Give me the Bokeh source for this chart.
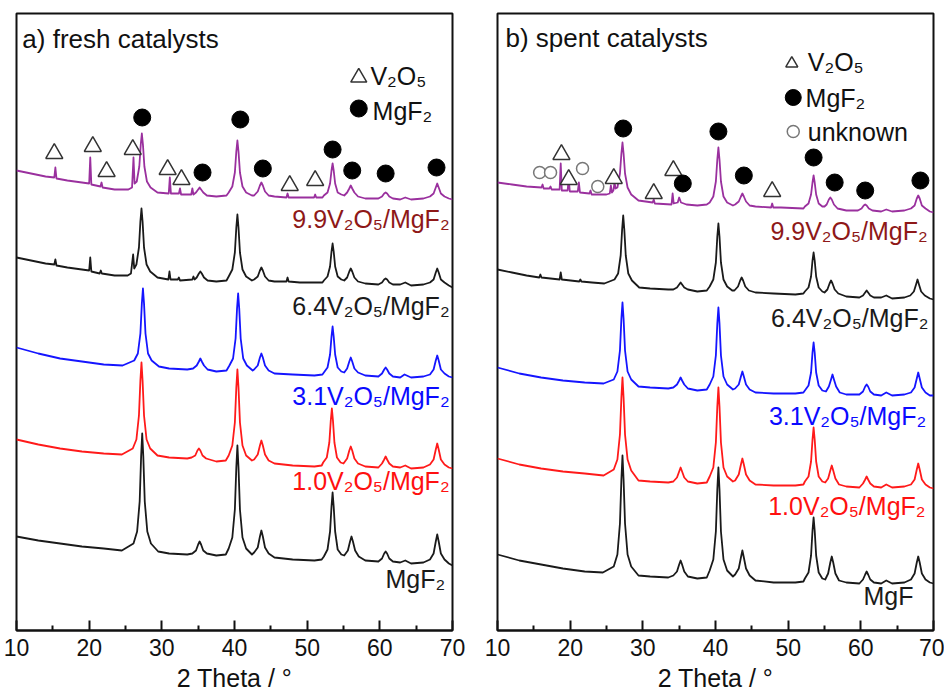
from bokeh.plotting import figure
from bokeh.models import Range1d, FixedTicker, Label
from bokeh.layouts import row
from bokeh.embed import file_html
from bokeh.resources import INLINE

FONT = "Liberation Sans"

# ---------------- data: 2 Theta (deg), intensity (a.u., offset stacked) ----------------
fresh_mgf2 = [(10,94),(13,90),(16,87),(19,84),(22,82),(24.5,80),
    (26.1,87),(26.6,99),(26.95,129),(27.15,174),(27.3,197),(27.45,174),(27.65,129),(28.0,99),(28.5,87),(29.5,79),
    (31,77),(33.5,76),
    (34.2,77),(34.7,80),(35.0,86),(35.2,89),(35.4,86),(35.7,80),(36.2,77),
    (37.5,75),(38.8,76),
    (39.2,82),(39.7,93),(40.05,121),(40.25,163),(40.4,185),(40.55,163),(40.75,121),(41.1,93),(41.6,82),(42.4,76),
    (42.7,78),(43.2,83),(43.5,94),(43.7,100),(43.9,94),(44.2,83),(44.7,77),
    (45.5,73),(48,71),(51,70),(52.0,71),
    (52.3,74),(52.8,81),(53.15,99),(53.35,124),(53.5,138),(53.65,124),(53.85,99),(54.2,81),(54.7,76),(55.1,75),
    (55.6,80),(55.9,89),(56.1,94),(56.3,89),(56.6,80),(57.1,74),
    (58,70),(59.8,69),
    (60.3,72),(60.6,77),(60.8,79),(61.0,77),(61.3,72),(61.8,69),
    (62.8,68),(63.5,70),(64.3,67),(66.0,68),
    (66.9,71),(67.4,77),(67.7,89),(67.9,96),(68.1,89),(68.4,77),(68.9,71),(69.5,67),(70,65)]

fresh_v10 = [(10,191),(13,186),(16,182),(19,179),(22,177),(24.5,176),
    (26.0,182),(26.5,191),(26.85,215),(27.05,250),(27.2,268),(27.35,250),(27.55,215),(27.9,191),(28.4,182),(29.4,175),
    (31,173),(33.5,172),
    (34.1,173),(34.6,175),(34.9,180),(35.1,182),(35.3,180),(35.6,175),(36.1,172),
    (37.5,169),(38.8,170),
    (39.2,175),(39.7,185),(40.05,208),(40.25,243),(40.4,261),(40.55,243),(40.75,208),(41.1,185),(41.6,175),(42.4,170),
    (42.7,171),(43.2,176),(43.5,185),(43.7,190),(43.9,185),(44.2,176),(44.7,170),
    (45.5,167),(48,165),(51,164),(52.0,165),
    (52.2,168),(52.7,173),(53.05,188),(53.25,210),(53.4,222),(53.55,210),(53.75,188),(54.1,173),(54.6,168),(55.0,167),
    (55.5,172),(55.8,180),(56.0,184),(56.2,180),(56.5,172),(57.0,167),
    (58,164),(59.8,163),
    (60.3,167),(60.6,171),(60.8,174),(61.0,171),(61.3,167),(61.8,164),
    (62.8,163),(63.5,165),(64.3,162),(66.0,163),
    (66.9,166),(67.4,171),(67.7,181),(67.9,187),(68.1,181),(68.4,171),(68.9,166),(69.5,163),(70,162)]

fresh_v31 = [(10,283),(13,277),(16,272),(19,269),(22,266),(24.6,265),
    (26.2,270),(26.7,277),(27.05,297),(27.25,327),(27.4,342),(27.55,327),(27.75,297),(28.1,277),(28.6,270),(29.6,264),
    (31,262),(33.5,261),
    (34.3,262),(34.8,265),(35.1,269),(35.3,272),(35.5,269),(35.8,265),(36.3,261),
    (37.5,259),(38.9,260),
    (39.3,265),(39.8,272),(40.15,292),(40.35,322),(40.5,337),(40.65,322),(40.85,292),(41.2,272),(41.7,265),(42.5,260),
    (42.7,261),(43.2,265),(43.5,273),(43.7,277),(43.9,273),(44.2,265),(44.7,260),
    (45.5,257),(48,256),(51,255),(52.1,256),
    (52.3,258),(52.8,263),(53.15,276),(53.35,294),(53.5,304),(53.65,294),(53.85,276),(54.2,263),(54.7,259),(55.1,258),
    (55.5,262),(55.8,269),(56.0,273),(56.2,269),(56.5,262),(57.0,258),
    (58,255),(59.8,254),
    (60.3,257),(60.6,261),(60.8,263),(61.0,261),(61.3,257),(61.8,254),
    (62.8,253),(63.4,256),(64.3,253),(66.0,254),
    (66.9,256),(67.4,261),(67.7,270),(67.9,275),(68.1,270),(68.4,261),(68.9,257),(69.5,254),(70,253)]

fresh_v64 = [(10,373),(12,370),(14,367),(15.2,366),(15.35,371),(15.5,365),(17,363),(19,361),
    (20.0,360),(20.15,373),(20.3,359),(21.45,357),(21.6,360),(21.75,357),(23.5,355),(25.3,355),
    (25.75,357),(26.05,376),(26.2,362),
    (26.5,366),(26.85,383),(27.05,409),(27.2,422),(27.35,409),(27.55,383),(27.9,366),(28.4,359),(29.4,353),
    (30.9,351),(31.05,359),(31.2,351),(32.2,351),(32.35,353),(32.5,350),(34.2,351),(34.35,354),(34.5,351),
    (34.8,353),(35.1,357),(35.3,359),(35.5,357),(35.8,353),(36.3,350),
    (37.5,349),(38.9,350),
    (39.2,354),(39.7,361),(40.05,378),(40.25,403),(40.4,416),(40.55,403),(40.75,378),(41.1,361),(41.6,354),(42.4,350),
    (42.7,351),(43.2,354),(43.5,360),(43.7,363),(43.9,360),(44.2,354),(44.7,350),
    (45.5,349),(47.15,349),(47.3,353),(47.45,349),(49,348),(52.1,348),
    (52.3,350),(52.8,354),(53.15,364),(53.35,379),(53.5,387),(53.65,379),(53.85,364),(54.2,354),(54.7,351),(55.1,350),
    (55.5,353),(55.8,359),(56.0,362),(56.2,359),(56.5,353),(57.0,349),
    (58,347),(59.8,346),
    (60.3,348),(60.6,351),(60.8,352),(61.0,351),(61.3,348),(61.8,346),
    (62.8,346),(63.5,348),(64.3,345),(66.0,346),
    (66.9,348),(67.4,351),(67.7,358),(67.9,362),(68.1,358),(68.4,351),(68.9,348),(69.5,345),(70,343)]

fresh_v99 = [(10,460),(12,457),(14,454),(15.2,453),(15.35,463),(15.5,452),(17,450),(19,448),
    (20.0,447),(20.15,473),(20.3,446),(21.55,444),(21.7,448),(21.85,443),(23.5,441),(25.4,441),
    (25.9,443),(26.1,473),(26.25,447),
    (26.55,449),(26.9,464),(27.1,486),(27.25,497),(27.4,486),(27.6,464),(27.95,449),(28.45,443),(29.4,438),
    (30.95,437),(31.1,453),(31.25,437),(32.35,437),(32.5,442),(32.65,436),(34.05,436),(34.2,442),(34.35,436),
    (34.7,438),(35.0,441),(35.2,443),(35.4,441),(35.7,438),(36.2,435),
    (37.5,434),(38.9,435),
    (39.2,438),(39.7,444),(40.05,458),(40.25,479),(40.4,490),(40.55,479),(40.75,458),(41.1,444),(41.6,438),(42.4,435),
    (42.7,435),(43.2,439),(43.5,445),(43.7,448),(43.9,445),(44.2,439),(44.7,435),
    (45.5,434),(47.15,433),(47.3,437),(47.45,433),(49,433),(50.95,433),(51.1,436),(51.25,433),(52.1,433),
    (52.3,435),(52.8,438),(53.15,447),(53.35,460),(53.5,467),(53.65,460),(53.85,447),(54.2,438),(54.7,436),(55.1,435),
    (55.5,438),(55.8,442),(56.0,445),(56.2,442),(56.5,438),(57.0,434),
    (58,432),(59.8,432),
    (60.3,434),(60.6,437),(60.8,438),(61.0,437),(61.3,434),(61.8,432),
    (62.8,431),(63.5,433),(64.3,431),(66.0,432),
    (66.9,434),(67.4,437),(67.7,443),(67.9,447),(68.1,443),(68.4,437),(68.9,434),(69.5,432),(70,431)]

spent_mgf2 = [(10,76),(13,70),(16,66),(19,62),(22,59),(24.5,58),
    (26.0,64),(26.5,76),(26.85,107),(27.05,151),(27.2,175),(27.35,151),(27.55,107),(27.9,76),(28.4,64),(29.4,55),
    (31,54),(33.5,53),
    (34.2,55),(34.7,59),(35.0,66),(35.2,70),(35.4,66),(35.7,59),(36.2,54),
    (37.5,52),(38.8,53),
    (39.2,60),(39.7,71),(40.05,99),(40.25,141),(40.4,163),(40.55,141),(40.75,99),(41.1,71),(41.6,60),(42.4,54),
    (42.7,56),(43.2,62),(43.5,73),(43.7,80),(43.9,73),(44.2,62),(44.7,55),
    (45.5,50),(48,48),(51,48),(52.1,49),
    (52.3,52),(52.8,58),(53.15,75),(53.35,100),(53.5,113),(53.65,100),(53.85,75),(54.2,58),(54.7,52),(55.1,51),
    (55.5,57),(55.8,68),(56.0,74),(56.2,68),(56.5,57),(57.0,50),
    (58,48),(59.8,47),
    (60.3,51),(60.6,56),(60.8,59),(61.0,56),(61.3,51),(61.8,48),
    (62.8,47),(63.5,50),(64.3,47),(66.0,48),
    (66.9,51),(67.4,57),(67.7,68),(67.9,74),(68.1,68),(68.4,57),(68.9,51),(69.5,48),(70,47)]

spent_v10 = [(10,172),(13,166),(16,162),(19,159),(22,157),(24.6,155),
    (26.0,161),(26.5,171),(26.85,196),(27.05,233),(27.2,253),(27.35,233),(27.55,196),(27.9,171),(28.4,160),(29.4,150),
    (31,149),(33.5,148),
    (34.2,149),(34.7,153),(35.0,159),(35.2,163),(35.4,159),(35.7,153),(36.2,149),
    (37.5,147),(38.8,148),
    (39.2,154),(39.7,163),(40.05,188),(40.25,224),(40.4,243),(40.55,224),(40.75,188),(41.1,163),(41.6,154),(42.4,149),
    (42.7,150),(43.2,156),(43.5,166),(43.7,172),(43.9,166),(44.2,156),(44.7,150),
    (45.5,146),(48,145),(51,145),(52.1,146),
    (52.3,149),(52.8,154),(53.15,169),(53.35,191),(53.5,203),(53.65,191),(53.85,169),(54.2,154),(54.7,149),(55.1,148),
    (55.5,152),(55.8,160),(56.0,165),(56.2,160),(56.5,152),(57.0,146),
    (58,144),(59.8,143),
    (60.3,147),(60.6,151),(60.8,154),(61.0,151),(61.3,147),(61.8,144),
    (62.8,143),(63.5,146),(64.3,143),(66.0,144),
    (66.9,146),(67.4,151),(67.7,161),(67.9,167),(68.1,161),(68.4,151),(68.9,146),(69.5,143),(70,142)]

spent_v31 = [(10,263),(13,257),(16,253),(19,250),(22,248),(24.6,247),
    (26.0,251),(26.5,259),(26.85,280),(27.05,312),(27.2,328),(27.35,312),(27.55,280),(27.9,259),(28.4,251),(29.4,244),
    (31,243),(33.5,242),
    (34.2,243),(34.7,246),(35.0,250),(35.2,253),(35.4,250),(35.7,246),(36.2,242),
    (37.5,240),(38.8,241),
    (39.2,246),(39.7,254),(40.05,275),(40.25,307),(40.4,323),(40.55,307),(40.75,275),(41.1,254),(41.6,246),(42.4,241),
    (42.7,242),(43.2,246),(43.5,254),(43.7,259),(43.9,254),(44.2,246),(44.7,241),
    (45.5,238),(48,237),(51,237),(52.1,238),
    (52.3,240),(52.8,245),(53.15,258),(53.35,278),(53.5,288),(53.65,278),(53.85,258),(54.2,245),(54.7,240),(55.2,239),
    (55.6,244),(55.9,251),(56.1,256),(56.3,251),(56.6,244),(57.1,238),
    (58,236),(59.8,236),
    (60.3,239),(60.6,244),(60.8,246),(61.0,244),(61.3,239),(61.8,236),
    (62.8,235),(63.5,238),(64.3,235),(66.0,236),
    (66.9,238),(67.4,243),(67.7,252),(67.9,258),(68.1,252),(68.4,243),(68.9,238),(69.5,235),(70,235)]

spent_v64 = [(10,361),(12,358),(14,355),(15.75,353),(15.9,356),(16.05,353),(18.55,351),(18.7,358),
    (18.85,351),(21.25,349),(21.4,351),(21.55,349),(23,348),(24.7,347),
    (26.1,351),(26.6,357),(26.95,375),(27.15,401),(27.3,415),(27.45,401),(27.65,375),(28.0,357),(28.5,350),(29.5,343),
    (31,342),(33.5,341),
    (34.2,341),(34.7,343),(35.0,346),(35.2,348),(35.4,346),(35.7,343),(36.2,341),
    (37.5,339),(38.8,340),
    (39.2,344),(39.7,351),(40.05,368),(40.25,394),(40.4,407),(40.55,394),(40.75,368),(41.1,351),(41.6,344),(42.3,340),
    (42.6,340),(43.1,344),(43.4,350),(43.6,353),(43.8,350),(44.1,344),(44.6,340),
    (45.5,338),(48,337),(51,336),(52.1,337),
    (52.3,339),(52.8,343),(53.15,354),(53.35,370),(53.5,378),(53.65,370),(53.85,354),(54.2,343),(54.7,339),(55.0,338),
    (55.4,341),(55.7,347),(55.9,350),(56.1,347),(56.4,341),(56.9,337),
    (58,334),(59.8,333),
    (60.3,335),(60.6,338),(60.8,340),(61.0,338),(61.3,335),(61.8,333),
    (62.8,333),(63.5,335),(64.3,332),(66.0,333),
    (66.8,335),(67.3,339),(67.6,346),(67.8,351),(68.0,346),(68.3,339),(68.8,335),(69.5,332),(70,331)]

spent_v99 = [(10,448),(12,446),(14,444),(16.05,443),(16.2,446),(16.35,442),(17.15,442),(17.3,444),
    (17.45,441),(18.55,441),(18.7,467),(18.85,440),(19.65,440),(19.8,452),(19.95,439),(21.05,439),
    (21.2,448),(21.35,438),(22.65,437),(22.8,440),(22.95,436),(25.0,436),(25.45,437),(25.6,445),
    (25.75,438),(25.95,440),(26.1,448),(26.25,442),
    (26.5,443),(26.85,457),(27.05,477),(27.2,488),(27.35,477),(27.55,457),(27.9,443),(28.4,436),(29.4,430),
    (31.35,428),(31.5,431),(31.65,427),(33.95,426),(34.1,437),(34.25,427),(34.8,428),(35.0,433),
    (35.25,428),(36.0,426),
    (37.5,425),(38.8,426),
    (39.2,428),(39.7,434),(40.05,449),(40.25,471),(40.4,483),(40.55,471),(40.75,449),(41.1,434),(41.6,428),(42.4,425),
    (42.7,426),(43.2,429),(43.5,434),(43.7,437),(43.9,434),(44.2,429),(44.7,425),
    (45.5,424),(47.65,423),(47.8,427),(47.95,423),(49,423),(52.1,422),
    (52.3,424),(52.8,427),(53.15,436),(53.35,448),(53.5,455),(53.65,448),(53.85,436),(54.2,427),(54.7,424),(55.0,424),
    (55.3,426),(55.6,431),(55.8,433),(56.0,431),(56.3,426),(56.8,422),
    (58,420),(59.6,420),
    (60.1,422),(60.4,425),(60.6,426),(60.8,425),(61.1,422),(61.6,420),
    (62.8,419),(63.5,421),(64.3,419),(66.0,420),
    (66.9,422),(67.4,425),(67.7,432),(67.9,435),(68.1,432),(68.4,425),(68.9,422),(69.5,419),(70,418)]

# phase markers (peak assignments)
fresh_v2o5_x = [15.2, 20.5, 22.4, 26.0, 30.8, 32.7, 47.6, 51.1]
fresh_v2o5_y = [477, 484, 459, 481, 461, 451, 445, 450]
fresh_mgf2_x = [27.3, 40.8, 35.6, 43.9, 53.5, 56.2, 60.8, 67.8]
fresh_mgf2_y = [513, 511, 458, 462, 481, 460, 457, 463]

spent_v2o5_x = [18.8, 19.8, 26.0, 31.5, 34.2, 47.8]
spent_v2o5_y = [476, 451, 452, 437, 460, 439]
spent_unk_x = [15.8, 17.3, 21.7, 23.8]
spent_unk_y = [458, 458, 462, 444]
spent_mgf2_x = [27.3, 35.5, 40.4, 43.9, 53.5, 56.4, 60.6, 68.2]
spent_mgf2_y = [502, 447, 499, 455, 473, 448, 440, 450]

sample_names = ["9.9V\u2082O\u2085/MgF\u2082", "6.4V\u2082O\u2085/MgF\u2082",
                "3.1V\u2082O\u2085/MgF\u2082", "1.0V\u2082O\u2085/MgF\u2082", "MgF\u2082"]
sample_colors = ["#8e1818", "#1a1a1a", "#0a0aff", "#ff1010", "#1a1a1a"]
line_colors = ["#9a309e", "#1a1a1a", "#1515ff", "#ff1a1a", "#1a1a1a"]

fresh_traces = [fresh_v99, fresh_v64, fresh_v31, fresh_v10, fresh_mgf2]
spent_traces = [spent_v99, spent_v64, spent_v31, spent_v10, spent_mgf2]

fresh_label_x = [69.6, 69.6, 69.6, 69.6, 69.0]
fresh_label_y = [412, 325, 235, 150, 52]
spent_label_x = [69.2, 69.3, 69.0, 68.9, 67.25]
spent_label_y = [400, 313, 215, 125, 35]
spent_names = sample_names[:4] + ["MgF"]

x_ticks = [10, 20, 30, 40, 50, 60, 70]
x_minor = [15, 25, 35, 45, 55, 65]


def make_panel(traces, names, lx, ly, title, tx, ty, bl, br):
    p = figure(frame_width=436, frame_height=617, x_range=Range1d(10, 70), y_range=Range1d(0, 617),
               output_backend="svg", toolbar_location=None, y_axis_location=None,
               min_border_top=13, min_border_left=bl, min_border_right=br, min_border_bottom=58)
    p.grid.visible = False
    p.outline_line_color = "#111111"
    p.outline_line_width = 2
    p.background_fill_color = "white"
    p.border_fill_color = "white"
    ax = p.xaxis[0]
    ax.ticker = FixedTicker(ticks=x_ticks, minor_ticks=x_minor)
    ax.axis_line_width = 2
    ax.axis_line_color = "#111111"
    ax.major_tick_in = 10
    ax.major_tick_out = 0
    ax.minor_tick_in = 5
    ax.minor_tick_out = 0
    ax.major_tick_line_width = 2
    ax.minor_tick_line_width = 2
    ax.major_tick_line_color = "#111111"
    ax.minor_tick_line_color = "#111111"
    ax.major_label_text_font = FONT
    ax.major_label_text_font_size = "23px"
    ax.major_label_text_color = "#111111"
    ax.major_label_standoff = 8
    ax.axis_label = "2 Theta / \u00b0"
    ax.axis_label_text_font = FONT
    ax.axis_label_text_font_size = "25px"
    ax.axis_label_text_font_style = "normal"
    ax.axis_label_text_color = "#111111"
    ax.axis_label_standoff = 5
    for tr, col in zip(traces, line_colors):
        xs = [a for a, b in tr]
        ys = [b for a, b in tr]
        p.line(xs, ys, line_color=col, line_width=1.8, line_join="round")
    for name, col, x, y in zip(names, sample_colors, lx, ly):
        p.add_layout(Label(x=x, y=y, text=name, text_align="right", text_baseline="middle",
                           text_font=FONT, text_font_size="25px", text_color=col))
    p.add_layout(Label(x=tx, y=ty, text=title, text_align="left", text_baseline="middle",
                       text_font=FONT, text_font_size="26px", text_color="#111111"))
    return p


pa = make_panel(fresh_traces, sample_names, fresh_label_x, fresh_label_y,
                "a) fresh catalysts", 10.8, 592, 16, 22)
pa.scatter(fresh_v2o5_x, fresh_v2o5_y, marker="triangle", size=17, fill_color="white",
           line_color="#333333", line_width=1.5)
pa.scatter(fresh_mgf2_x, fresh_mgf2_y, marker="circle", size=17, fill_color="black", line_color="black")
# key
pa.scatter([57.1], [553], marker="triangle", size=16, fill_color="white", line_color="#333333", line_width=1.5)
pa.scatter([57.1], [522], marker="circle", size=17, fill_color="black", line_color="black")
pa.add_layout(Label(x=58.7, y=555, text="V\u2082O\u2085", text_baseline="middle", text_font=FONT,
                    text_font_size="25px", text_color="#111111"))
pa.add_layout(Label(x=59.0, y=520, text="MgF\u2082", text_baseline="middle", text_font=FONT,
                    text_font_size="25px", text_color="#111111"))

pb = make_panel(spent_traces, spent_names, spent_label_x, spent_label_y,
                "b) spent catalysts", 11.1, 593, 23, 11)
pb.scatter(spent_v2o5_x, spent_v2o5_y, marker="triangle", size=17, fill_color="white",
           line_color="#333333", line_width=1.5)
pb.scatter(spent_unk_x, spent_unk_y, marker="circle", size=12, fill_color="white",
           line_color="#777777", line_width=1.5)
pb.scatter(spent_mgf2_x, spent_mgf2_y, marker="circle", size=17, fill_color="black", line_color="black")
pb.scatter([50.5], [567], marker="triangle", size=12, fill_color="white", line_color="#333333", line_width=1.5)
pb.scatter([50.7], [533], marker="circle", size=16, fill_color="black", line_color="black")
pb.scatter([50.7], [499], marker="circle", size=12, fill_color="white", line_color="#777777", line_width=1.5)
for tx_, ty_, tt in [(52.7, 569, "V\u2082O\u2085"), (52.4, 533, "MgF\u2082"), (52.7, 499, "unknown")]:
    pb.add_layout(Label(x=tx_, y=ty_, text=tt, text_baseline="middle", text_font=FONT,
                        text_font_size="25px", text_color="#111111"))

layout = row(pa, pb)
open("out.html", "w").write(file_html(layout, INLINE))
